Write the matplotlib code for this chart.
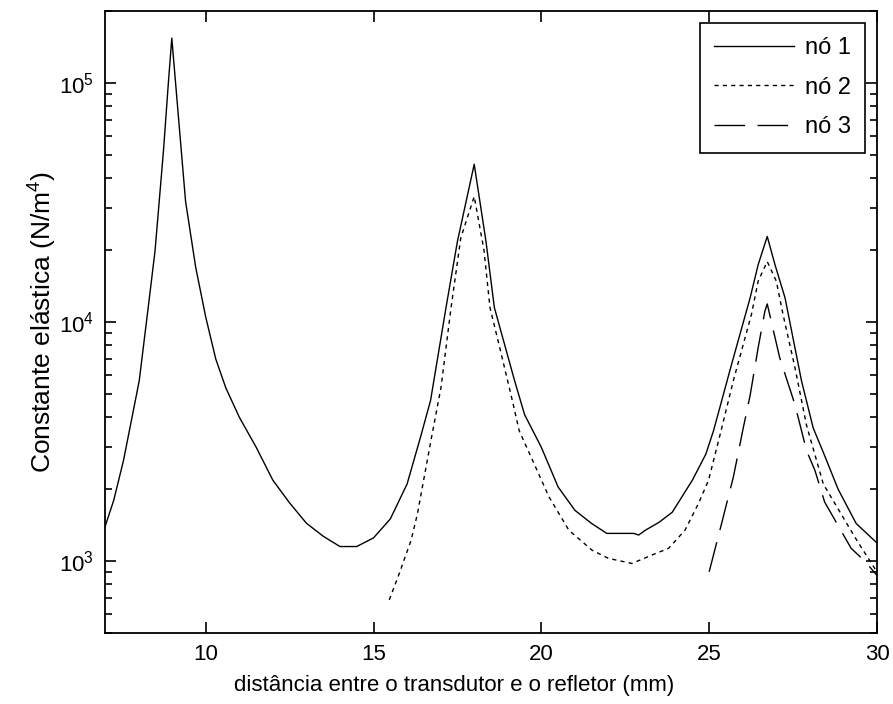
import math
import matplotlib
matplotlib.use("Agg")
import matplotlib.pyplot as plt
from matplotlib.ticker import LogLocator, FixedLocator, NullFormatter, FuncFormatter

plt.rcParams['font.family'] = ['Liberation Sans', 'DejaVu Sans']
plt.rcParams['mathtext.fontset'] = 'custom'
plt.rcParams['mathtext.rm'] = 'Liberation Sans'
plt.rcParams['mathtext.it'] = 'Liberation Sans:italic'
plt.rcParams['mathtext.default'] = 'regular'

# --- data ---
x_no1 = [7.0, 7.26, 7.55, 8.02, 8.3, 8.49, 8.74, 8.89, 8.99, 9.4, 9.7, 10.0, 10.3, 10.6,
         11.0, 11.5, 12.0, 12.5, 13.0, 13.5, 14.0, 14.5, 15.0, 15.5, 16.0, 16.4, 16.7,
         17.16, 17.5, 18.0, 18.35, 18.6, 19.2, 19.5, 20.0, 20.5, 21.0, 21.5, 21.95, 22.75,
         22.9, 23.1, 23.5, 23.9, 24.5, 24.9, 25.13, 25.67, 26.22, 26.46, 26.73, 26.96,
         27.26, 27.75, 28.1, 28.4, 28.84, 29.38, 30.0]
y_no1 = [1390, 1795, 2630, 5680, 11900, 19800, 51600, 101000, 154000, 32000, 17000, 10500,
         7000, 5300, 4000, 3000, 2180, 1750, 1440, 1270, 1150, 1150, 1250, 1500, 2100,
         3300, 4700, 11500, 21750, 45700, 21750, 11500, 5700, 4100, 2990, 2040, 1630, 1435,
         1305, 1305, 1285, 1346, 1450, 1600, 2180, 2800, 3510, 6670, 12620, 17380, 22800,
         17380, 12620, 5680, 3600, 2850, 2000, 1435, 1190]

x_no2 = [15.47, 15.77, 16.12, 16.31, 16.51, 16.71, 17.01, 17.31, 17.6, 18.0, 18.29, 18.47,
         18.8, 19.09, 19.34, 19.83, 20.23, 20.82, 21.51, 22.0, 22.7, 23.29, 23.79, 24.28,
         24.68, 24.98, 25.33, 25.72, 26.26, 26.46, 26.73, 27.0, 27.2, 27.55, 27.9, 28.4,
         28.9, 29.4, 30.0]
y_no2 = [688, 889, 1223, 1580, 2245, 3190, 5320, 11480, 22500, 33500, 20000, 11480, 7400,
         5000, 3510, 2470, 1853, 1346, 1110, 1026, 977, 1059, 1130, 1346, 1739, 2175, 3400,
         5680, 10760, 14830, 17900, 14830, 10760, 6500, 3700, 2100, 1600, 1220, 900]

x_no3 = [25.0, 25.37, 25.72, 26.02, 26.22, 26.46, 26.66, 26.73, 27.1, 27.55, 27.9, 28.15,
         28.44, 29.23, 29.65, 30.0]
y_no3 = [902, 1435, 2245, 3630, 4930, 7820, 11100, 11900, 7100, 4540, 2900, 2395, 1766,
         1130, 995, 870]

x_ticks = [10, 15, 20, 25, 30]
labels = ['nó 1', 'nó 2', 'nó 3']

fig = plt.figure(figsize=(8.93, 7.04), dpi=100)
ax = fig.add_axes([105/893, 71/704, (877-105)/893, (633-11)/704])

lw = 1.0
ax.plot(x_no1, y_no1, color='black', linestyle='-', linewidth=lw, label=labels[0])
ax.plot(x_no2, y_no2, color='black', linestyle=(0, (3, 3)), linewidth=lw, label=labels[1])
ax.plot(x_no3, y_no3, color='black', linestyle=(0, (22, 9)), linewidth=lw, label=labels[2])

ax.set_yscale('log')
ax.set_xlim(7, 30)
ax.set_ylim(500, 2e5)
ax.xaxis.set_major_locator(FixedLocator(x_ticks))
ax.yaxis.set_major_locator(LogLocator(base=10, numticks=10))
ax.yaxis.set_minor_locator(LogLocator(base=10, subs=range(2, 10), numticks=20))
ax.yaxis.set_minor_formatter(NullFormatter())
ax.yaxis.set_major_formatter(FuncFormatter(lambda v, p: r'$10^{%d}$' % round(math.log10(v))))

ax.tick_params(which='both', direction='in', top=True, right=True, labelsize=16,
               width=1.2, colors='black')
ax.tick_params(which='major', length=8, pad=8)
ax.tick_params(which='minor', length=5)
for s in ax.spines.values():
    s.set_linewidth(1.3)

ax.set_xlabel('distância entre o transdutor e o refletor (mm)', fontsize=16)
ax.xaxis.set_label_coords(0.452, -0.068)
ax.set_ylabel('Constante elástica (N/m$^4$)', fontsize=19, labelpad=0)

leg = ax.legend(loc='upper right', fontsize=17, handlelength=3.4, handletextpad=0.45,
                borderaxespad=0.5, fancybox=False, framealpha=1, edgecolor='black',
                labelspacing=0.75, borderpad=0.6)
leg.get_frame().set_linewidth(1.2)

fig.savefig('out.png', dpi=100, facecolor='white')
